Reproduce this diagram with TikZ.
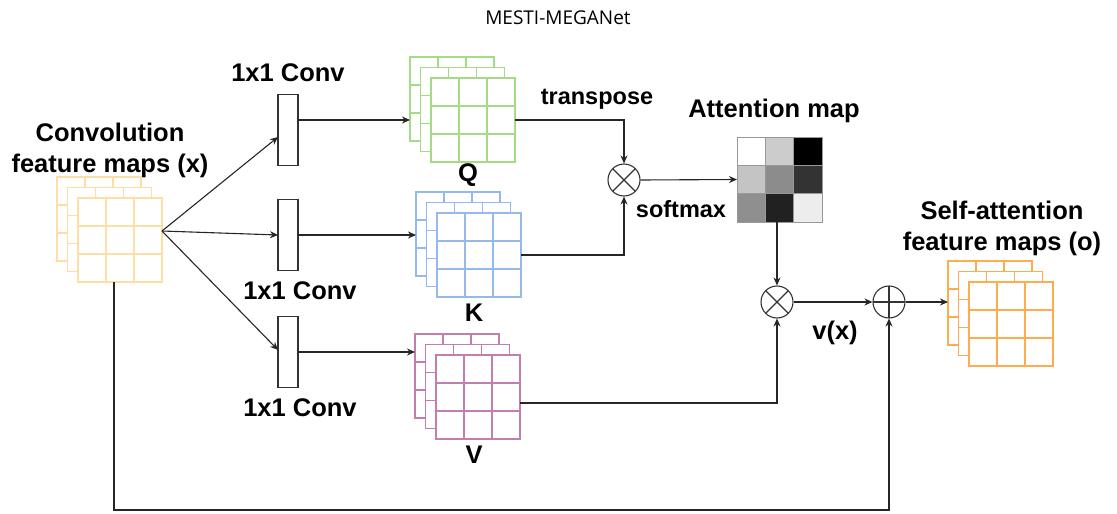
\documentclass[tikz,border=0pt]{standalone}
\usepackage{fontspec}
\setmainfont{Liberation Sans}
\newfontfamily\titlefont{Open Sans}
\usetikzlibrary{arrows.meta,calc}

\definecolor{inyellow}{RGB}{255,222,165}
\definecolor{qgreen}{RGB}{165,218,135}
\definecolor{kblue}{RGB}{150,185,235}
\definecolor{vpink}{RGB}{195,125,175}
\definecolor{outorange}{RGB}{255,172,80}

% stack of three 3x3 maps, #3,#4 = top left corner of the back one
\newcommand{\fmap}[4]{%
  \foreach \k/\s in {b/0,m/1,f/2} {
    \node[fmap=#2, anchor=north west] (#1\k) at ({#3+10.5*\s},{#4+10.5*\s}) {};
    \foreach \i in {1,2} {
      \draw[#2, line width=1.3pt] ([xshift=\i*28pt]#1\k.north west) -- ([xshift=\i*28pt]#1\k.south west);
      \draw[#2, line width=1.3pt] ([yshift=-\i*28pt]#1\k.north west) -- ([yshift=-\i*28pt]#1\k.north east);
    }
  }
}

\begin{document}
\begin{tikzpicture}[x=1pt,y=-1pt,
  fmap/.style={draw=#1, fill=white, line width=1.3pt, minimum size=84pt, inner sep=0pt, outer sep=0pt},
  conv/.style={draw=black!80, fill=white, line width=1.3pt, minimum width=20pt, minimum height=71pt, inner sep=0pt, outer sep=0pt},
  mul/.style={circle, draw=black!80, line width=1.1pt, minimum size=32pt, inner sep=0pt,
    path picture={\draw[black!80, line width=1.1pt] (path picture bounding box.north west) -- (path picture bounding box.south east)
      (path picture bounding box.north east) -- (path picture bounding box.south west);}},
  add/.style={circle, draw=black!80, line width=1.1pt, minimum size=32pt, inner sep=0pt,
    path picture={\draw[black!80, line width=1.1pt] (path picture bounding box.north) -- (path picture bounding box.south)
      (path picture bounding box.east) -- (path picture bounding box.west);}},
  lbl/.style={font=\bfseries\fontsize{25.5}{31}\selectfont, align=center, inner sep=0pt},
  small/.style={font=\bfseries\fontsize{23.5}{26}\selectfont, inner sep=0pt},
  arr/.style={-{Stealth[length=8pt,width=7pt]}, draw=black!85, line width=1.1pt}]
  \useasboundingbox (0,0) rectangle (1117,514);

  \node[font=\titlefont\fontsize{19}{23}\selectfont] (title) at (558,18) {MESTI-MEGANet};

  \fmap{in}{inyellow}{57}{177}
  \fmap{q}{qgreen}{410}{57}
  \fmap{k}{kblue}{416}{192}
  \fmap{v}{vpink}{415}{334}
  \fmap{o}{outorange}{948}{261}

  \node[conv] (c1) at (288,130) {};
  \node[conv] (c2) at (288,235) {};
  \node[conv] (c3) at (288,352) {};

  % attention map
  \node[draw=black!40, line width=1pt, minimum size=85pt, inner sep=0pt, outer sep=0pt] (att) at (779.5,179.5) {};
  \foreach \r/\c/\g in {0/0/0,0/1/20,0/2/100,1/0/23,1/1/45,1/2/80,2/0/44,2/1/87,2/2/7}
    \fill[black!\g] ([shift={(\c*85/3,\r*85/3)}]att.north west) rectangle ++(85/3,85/3);
  \foreach \i in {1,2} {
    \draw[black!40] ([xshift=\i*85/3*1pt]att.north west) -- ([xshift=\i*85/3*1pt]att.south west);
    \draw[black!40] ([yshift=-\i*85/3*1pt]att.north west) -- ([yshift=-\i*85/3*1pt]att.north east);
  }
  \draw[black!40, line width=1pt] (att.north west) rectangle (att.south east);

  \node[mul] (mul1) at (624,180) {};
  \node[mul] (mul2) at (777,302) {};
  \node[add] (sum) at (889,302) {};

  % labels
  \node[lbl] (inlbl) at (110,150) {Convolution\\feature maps (x)};
  \node[lbl] (c1lbl) at (288,73) {1x1 Conv};
  \node[lbl] (c2lbl) at (300,291) {1x1 Conv};
  \node[lbl] (c3lbl) at (300,408) {1x1 Conv};
  \node[lbl] (qlbl) at (468,175) {Q};
  \node[lbl] (klbl) at (474,313) {K};
  \node[lbl] (vlbl) at (474,455) {V};
  \node[small] (tr) at (597,99) {transpose};
  \node[small] (sm) at (681,209) {softmax};
  \node[lbl] (attlbl) at (774,111) {Attention map};
  \node[lbl] (vx) at (835,333) {v(x)};
  \node[lbl] (olbl) at (1002,228) {Self-attention\\feature maps (o)};

  % connections
  \draw[arr] ([yshift=9pt]inf.east) -- ([yshift=-7pt]c1.west);
  \draw[arr] ([yshift=9pt]inf.east) -- (c2.west);
  \draw[arr] ([yshift=9pt]inf.east) -- ([yshift=2pt]c3.west);
  \draw[arr] ([yshift=10pt]c1.east) -- ([yshift=10pt]c1.east -| qb.west);
  \draw[arr] (c2.east) -- (c2.east -| kb.west);
  \draw[arr] (c3.east) -- (c3.east -| vb.west);
  \draw[arr] (qf.east) -| (mul1.north);
  \draw[arr] (kf.east) -| (mul1.south);
  \draw[arr] (mul1.east) -- (att.west);
  \draw[arr] (att.south -| mul2.north) -- (mul2.north);
  \draw[arr] ([yshift=-6pt]vf.east) -| (mul2.south);
  \draw[arr] (mul2.east) -- (sum.west);
  \draw[arr] (sum.east) -- (sum.east -| ob.west);
  \coordinate (low) at (0,510);
  \draw[arr] ([xshift=-6pt]inf.south) |- (low -| sum.south) -- (sum.south);
\end{tikzpicture}
\end{document}
